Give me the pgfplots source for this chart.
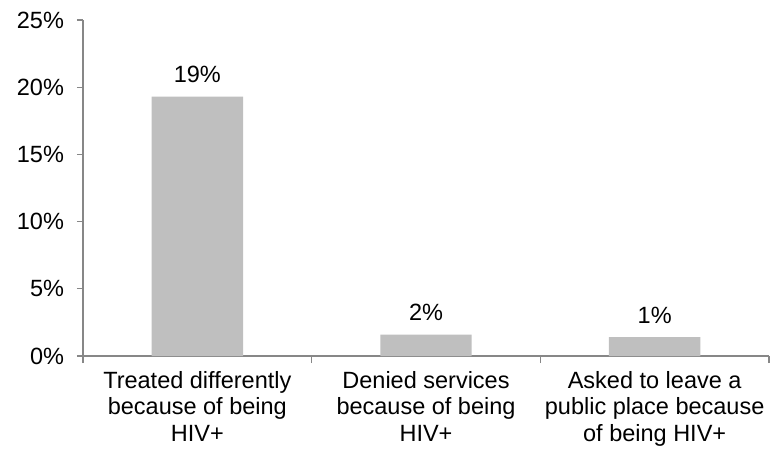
\documentclass[border=0pt]{standalone}
\usepackage{pgfplots}
\pgfplotsset{compat=1.18}
\usepackage{fontspec}
\setmainfont{Liberation Sans}
\definecolor{axisgray}{HTML}{878787}
\definecolor{bargray}{HTML}{BFBFBF}
\newcommand{\chartfont}{\fontsize{23.5}{26.5}\selectfont}
\begin{document}
\chartfont
\begin{tikzpicture}
\begin{axis}[
  scale only axis,
  width=686pt, height=336pt,
  xmin=0.5, xmax=3.5,
  ymin=0, ymax=25,
  axis x line*=bottom,
  axis y line*=left,
  axis line style={draw=axisgray, line width=1.2pt},
  every tick/.style={draw=axisgray, line width=1.2pt},
  tick align=outside,
  xtick={1,2,3},
  xticklabels={{Treated differently\\because of being\\HIV+},{Denied services\\because of being\\HIV+},{Asked to leave a\\public place because\\of being HIV+}},
  xticklabel style={align=center, font=\chartfont, yshift=-1pt},
  major x tick style={draw=none},
  minor xtick={0.5,1.5,2.5,3.5},
  minor tick length=7pt,
  major tick length=6pt,
  ytick={0,5,10,15,20,25},
  yticklabel={\pgfmathprintnumber{\tick}\%},
  yticklabel style={font=\chartfont, xshift=-5pt},
  /pgf/number format/assume math mode=true,
  bar width=0.4,
  enlargelimits=false,
  clip=false,
]
\addplot[ybar, fill=bargray, draw=none,
  nodes near coords, point meta=explicit symbolic,
  every node near coord/.style={font=\chartfont, anchor=south, yshift=6pt}]
  coordinates {(1,19.3)[19\%] (2,1.6)[2\%] (3,1.4)[1\%]};
\end{axis}
\pgfresetboundingbox
\path[use as bounding box] ([shift={(-83pt,-97pt)}]current axis.south west) rectangle ([shift={(4pt,20pt)}]current axis.north east);
\end{tikzpicture}
\end{document}
